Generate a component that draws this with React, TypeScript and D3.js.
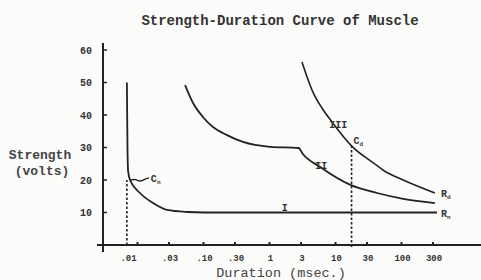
import React from "react";
import * as d3 from "d3";

const W = 481;
const H = 280;

// x: duration (msec), log scale; y: strength (volts)
const xTickValues = [0.01, 0.03, 0.1, 0.3, 1, 3, 10, 30, 100, 300];
const xTickLabels = [".01", ".03", ".10", ".30", "1", "3", "10", "30", "100", "300"];
const yTickValues = [10, 20, 30, 40, 50, 60];
const yTickLabels = ["10", "20", "30", "40", "50", "60"];

const durI = [0.0069, 0.00705, 0.0072, 0.0077, 0.0109, 0.0172, 0.028, 0.058, 0.1, 1, 10, 100, 345];
const strI = [50, 30, 22.8, 20, 16, 12.9, 10.8, 10.15, 10, 10, 10, 10, 10];

const durII = [0.0525, 0.0694, 0.098, 0.139, 0.227, 0.396, 1.02, 2.75, 3.2, 5.85, 16.8, 42.6, 106, 320];
const strII = [49.2, 43.7, 39.4, 36.3, 33.8, 31.7, 30.2, 29.85, 28, 24, 18.5, 16, 14.2, 12.9];

const durIII = [3.1, 4.6, 6.3, 8.9, 18.1, 37.8, 53, 106, 320];
const strIII = [56.3, 46.8, 42.0, 37.8, 30.2, 25.2, 23, 20, 16];

const chronI = { dur: 0.0069, str: 20 };
const chronIII = { dur: 17.5, str: 30.4 };

const ink = "#222";
const mono = "'Liberation Mono', 'DejaVu Sans Mono', monospace";

export default function App() {
  const x = d3.scaleLog().domain([0.03, 300]).range([169, 433]);
  const y = d3.scaleLinear().domain([0, 60]).range([245, 50]);

  const line = d3
    .line<[number, number]>()
    .x((d) => x(d[0]))
    .y((d) => y(d[1]))
    .curve(d3.curveMonotoneX);

  const zip = (a: number[], b: number[]) => a.map((v, i) => [v, b[i]] as [number, number]);

  const yAxisX = 103;

  // squiggle leader for C label on curve I
  const cx1 = x(chronI.dur) + 3;
  const cy1 = y(chronI.str);
  const squiggle = d3
    .line<[number, number]>()
    .curve(d3.curveBasis)([
      [cx1, cy1],
      [cx1 + 6, cy1 - 1],
      [cx1 + 10, cy1 + 2],
      [cx1 + 15, cy1 - 1],
      [cx1 + 19, cy1 - 2],
    ]);

  return (
    <svg
      width={W}
      height={H}
      style={{ position: "absolute", left: 0, top: 0, background: "#fbfbf9" }}
    >
      {/* title */}
      <text
        x={280}
        y={25}
        textAnchor="middle"
        fontFamily={mono}
        fontWeight="bold"
        fontSize={14}
        fill="#333"
      >
        Strength-Duration Curve of Muscle
      </text>

      {/* axes */}
      <line x1={yAxisX} x2={yAxisX} y1={43} y2={252} stroke={ink} strokeWidth={2} />
      <line x1={97} x2={481} y1={y(0)} y2={y(0)} stroke={ink} strokeWidth={2} />

      {/* y ticks */}
      {yTickValues.map((v, i) => (
        <g key={"yt" + v}>
          <line x1={yAxisX} x2={yAxisX + 4} y1={y(v)} y2={y(v)} stroke={ink} strokeWidth={1.5} />
          <text
            x={yAxisX - 17}
            y={y(v) + 3.5}
            textAnchor="middle"
            fontFamily={mono}
            fontWeight="bold"
            fontSize={10}
            fill="#333"
          >
            {yTickLabels[i]}
          </text>
        </g>
      ))}

      {/* x ticks */}
      {xTickValues.map((v, i) => (
        <g key={"xt" + v}>
          <line x1={x(v)} x2={x(v)} y1={y(0) - 3} y2={y(0)} stroke={ink} strokeWidth={2} />
          <text
            x={x(v) + (i === 0 ? -9 : 1)}
            y={y(0) + 16}
            textAnchor="middle"
            fontFamily={mono}
            fontWeight="bold"
            fontSize={9}
            fill="#333"
          >
            {xTickLabels[i]}
          </text>
        </g>
      ))}

      {/* axis titles */}
      <text x={40} y={159} textAnchor="middle" fontFamily={mono} fontWeight="bold" fontSize={13} fill="#444">
        Strength
      </text>
      <text x={42} y={175} textAnchor="middle" fontFamily={mono} fontWeight="bold" fontSize={13} fill="#444">
        (volts)
      </text>
      <text x={281} y={277} textAnchor="middle" fontFamily={mono} fontSize={13.5} fill="#444">
        Duration (msec.)
      </text>

      {/* chronaxie dashed lines */}
      <line
        x1={x(chronI.dur)}
        x2={x(chronI.dur)}
        y1={y(0)}
        y2={y(chronI.str)}
        stroke={ink}
        strokeWidth={1.6}
        strokeDasharray="2.5,2"
      />
      <line
        x1={x(chronIII.dur)}
        x2={x(chronIII.dur)}
        y1={y(0) + 2}
        y2={y(chronIII.str)}
        stroke={ink}
        strokeWidth={1.6}
        strokeDasharray="2.5,2"
      />

      {/* curves */}
      <path d={line(zip(durI, strI)) || ""} fill="none" stroke={ink} strokeWidth={1.8} />
      <path d={line(zip(durII, strII)) || ""} fill="none" stroke={ink} strokeWidth={1.8} />
      <path d={line(zip(durIII, strIII)) || ""} fill="none" stroke={ink} strokeWidth={1.6} />

      {/* annotations */}
      <path d={squiggle || ""} fill="none" stroke={ink} strokeWidth={1.4} />
      <text x={cx1 + 21} y={cy1 + 2} fontFamily={mono} fontWeight="bold" fontSize={10} fill="#333">
        C<tspan fontSize={6} dy={2}>n</tspan>
      </text>
      <text x={x(chronIII.dur) + 2} y={y(chronIII.str) - 2} fontFamily={mono} fontWeight="bold" fontSize={10} fill="#333">
        C<tspan fontSize={6} dy={2}>d</tspan>
      </text>

      <text x={x(1.7)} y={y(10) - 2} textAnchor="middle" fontFamily={mono} fontWeight="bold" fontSize={10} fill="#333">
        I
      </text>
      <text x={x(5.85) + 1} y={y(24) + 2} textAnchor="middle" fontFamily={mono} fontWeight="bold" fontSize={10} fill="#333">
        II
      </text>
      <text x={x(11)} y={y(37) + 3} textAnchor="middle" fontFamily={mono} fontWeight="bold" fontSize={10} fill="#333">
        III
      </text>

      <text x={x(300) + 8} y={y(16) + 4} fontFamily={mono} fontWeight="bold" fontSize={10} fill="#333">
        R<tspan fontSize={6} dy={2}>d</tspan>
      </text>
      <text x={x(300) + 8} y={y(10) + 4} fontFamily={mono} fontWeight="bold" fontSize={10} fill="#333">
        R<tspan fontSize={6} dy={2}>n</tspan>
      </text>
    </svg>
  );
}
